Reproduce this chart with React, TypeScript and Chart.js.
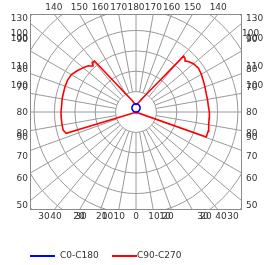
import React, { useEffect, useRef } from "react";
import { Chart, registerables } from "chart.js";

Chart.register(...registerables);

// ---- data (cd/klm, gamma angle measured from nadir) ----
const gammaC90 = [0, 10, 20, 30, 40, 50, 60, 66, 70.5, 75, 80, 85, 90, 95, 100, 105, 110, 115, 120, 125, 130, 134, 136, 137.5, 139.5, 140.7, 142.8, 148, 157, 164, 172, 180];
const valuesC90 = [2, 2, 2, 2, 2, 2, 3, 5, 183, 183, 181, 180, 180, 178, 178, 178, 180, 182, 185, 187, 184, 178, 174, 178, 180, 138, 97, 57, 33, 25, 20, 18];

const gammaC270 = [0, 10, 20, 30, 40, 50, 60, 67, 73, 76, 80, 85, 90, 95, 100, 105, 110, 115, 120, 125, 130, 134, 136.7, 138.5, 140.8, 142.1, 144.6, 150.4, 160.6, 170, 180];
const valuesC270 = [2, 2, 2, 2, 2, 2, 3, 5, 179, 184, 184, 184, 184, 183, 184, 184, 185, 185, 183, 176, 169, 163, 154, 162, 161, 124, 88, 51, 31, 21, 18];

const gammaC0 = [90, 100, 110, 120, 130, 140, 150, 160, 170, 180];
const valuesC0 = [0, 3.5, 6.9, 10, 12.9, 15.4, 17.4, 18.9, 19.8, 20];
const valuesC180 = [0, 3.5, 6.9, 10, 12.9, 15.4, 17.4, 18.9, 19.8, 20];

const seriesNames = ["C0-C180", "C90-C270"];
const seriesColors = ["#0000ff", "#ff0000"];

// frame tick labels
const topTicks = ["140", "150", "160", "170", "180", "170", "160", "150", "140"];
const topTickAngles = [-40, -30, -20, -10, 0, 10, 20, 30, 40];
const sideTicks = ["130", "100", "100", "90", "110", "80", "100", "70", "80", "80", "90", "70", "60", "50"];
const bottomLeftTicks = ["30", "40", "20", "30", "20", "10", "10", "0"];
const bottomRightTicks = ["10", "10", "20", "30", "20", "40", "30"];

const ringStep = 50;
const ringCount = 8;
const spokeStep = 10;

// ---- layout (pixels) ----
const SIDE_Y = [19, 34, 39, 40, 67, 70, 86, 88, 113, 134, 138, 157, 179, 206];
const BOTTOM_LEFT_X = [44, 56, 79, 81, 101.8, 107.6, 119.2, 136];
const BOTTOM_RIGHT_X = [154, 165, 168, 203, 206, 221, 233];

function toXY(gammas: number[], vals: number[], sign: number) {
  return gammas.map((g, i) => {
    const a = (g * Math.PI) / 180;
    return { x: sign * vals[i] * Math.sin(a), y: -vals[i] * Math.cos(a) };
  });
}

const FONT = "9px 'DejaVu Sans'";

const polarGrid = {
  id: "polarGrid",
  beforeDatasetsDraw(chart: any) {
    const { ctx, chartArea: a, scales } = chart;
    const xs = scales.x;
    const ys = scales.y;
    const cx = xs.getPixelForValue(0);
    const cy = ys.getPixelForValue(0);
    const step = xs.getPixelForValue(ringStep) - cx;
    ctx.save();
    ctx.beginPath();
    ctx.rect(a.left, a.top, a.right - a.left, a.bottom - a.top);
    ctx.clip();
    ctx.strokeStyle = "#9a9a9a";
    ctx.lineWidth = 1;
    for (let k = 1; k <= ringCount; k++) {
      ctx.beginPath();
      ctx.arc(cx, cy, k * step, 0, Math.PI * 2);
      ctx.stroke();
    }
    for (let g = 0; g < 360; g += spokeStep) {
      const r = (g * Math.PI) / 180;
      const dx = Math.sin(r);
      const dy = Math.cos(r);
      ctx.beginPath();
      ctx.moveTo(cx + dx * step, cy + dy * step);
      ctx.lineTo(cx + dx * step * 12, cy + dy * step * 12);
      ctx.stroke();
    }
    ctx.restore();
    ctx.save();
    ctx.strokeStyle = "#8a8a8a";
    ctx.lineWidth = 1;
    ctx.strokeRect(Math.round(a.left) + 0.5, Math.round(a.top) + 0.5, Math.round(a.right - a.left) - 1, Math.round(a.bottom - a.top) - 1);
    ctx.restore();
  },
  afterDraw(chart: any) {
    const { ctx, chartArea: a, scales } = chart;
    const cx = scales.x.getPixelForValue(0);
    const cy = scales.y.getPixelForValue(0);
    ctx.save();
    ctx.font = FONT;
    ctx.fillStyle = "#333333";
    ctx.textBaseline = "middle";
    // top
    ctx.textAlign = "center";
    topTicks.forEach((t, i) => {
      const ang = (topTickAngles[i] * Math.PI) / 180;
      const x = cx + (cy - a.top) * Math.tan(ang);
      ctx.fillText(t, x, a.top - 6);
    });
    // sides
    sideTicks.forEach((t, i) => {
      ctx.textAlign = "right";
      ctx.fillText(t, a.left - 2, SIDE_Y[i]);
      ctx.textAlign = "left";
      ctx.fillText(t, i === 1 ? a.right : a.right + 4, SIDE_Y[i]);
    });
    // bottom
    ctx.textAlign = "center";
    bottomLeftTicks.forEach((t, i) => ctx.fillText(t, BOTTOM_LEFT_X[i], a.bottom + 7));
    bottomRightTicks.forEach((t, i) => ctx.fillText(t, BOTTOM_RIGHT_X[i], a.bottom + 7));
    // legend
    const ly = 256;
    const starts = [30, 112];
    ctx.textAlign = "left";
    seriesNames.forEach((n, i) => {
      ctx.strokeStyle = seriesColors[i];
      ctx.lineWidth = 2;
      ctx.beginPath();
      ctx.moveTo(starts[i], ly);
      ctx.lineTo(starts[i] + 25, ly);
      ctx.stroke();
      ctx.fillStyle = "#333333";
      ctx.fillText(n, starts[i] + (i === 0 ? 30 : 25), ly);
    });
    ctx.restore();
  },
};

export default function App() {
  const ref = useRef<HTMLCanvasElement | null>(null);
  useEffect(() => {
    if (!ref.current) return;
    const blue = [
      ...toXY(gammaC0, valuesC0, 1),
      ...toXY(gammaC0.slice().reverse(), valuesC180.slice().reverse(), -1),
    ];
    const red = [
      ...toXY(gammaC90, valuesC90, 1),
      ...toXY(gammaC270.slice().reverse(), valuesC270.slice().reverse(), -1),
    ];
    const chart = new Chart(ref.current, {
      type: "scatter",
      data: {
        datasets: [
          { label: seriesNames[0], data: blue, showLine: true, borderColor: seriesColors[0], borderWidth: 1.6, pointRadius: 0, tension: 0.3 },
          { label: seriesNames[1], data: red, showLine: true, borderColor: seriesColors[1], borderWidth: 1.6, pointRadius: 0, tension: 0 },
        ],
      },
      options: {
        animation: false,
        responsive: false,
        layout: { padding: { left: 30, top: 14, right: 33, bottom: 55 } },
        plugins: { legend: { display: false }, tooltip: { enabled: false } },
        scales: {
          x: { type: "linear", min: -260, max: 260, display: false },
          y: { type: "linear", min: -240, max: 240, display: false },
        },
      },
      plugins: [polarGrid],
    });
    return () => chart.destroy();
  }, []);
  return (
    <div style={{ position: "fixed", left: 0, top: 0, width: 275, height: 265, background: "#fff" }}>
      <canvas ref={ref} width={275} height={265} />
    </div>
  );
}
